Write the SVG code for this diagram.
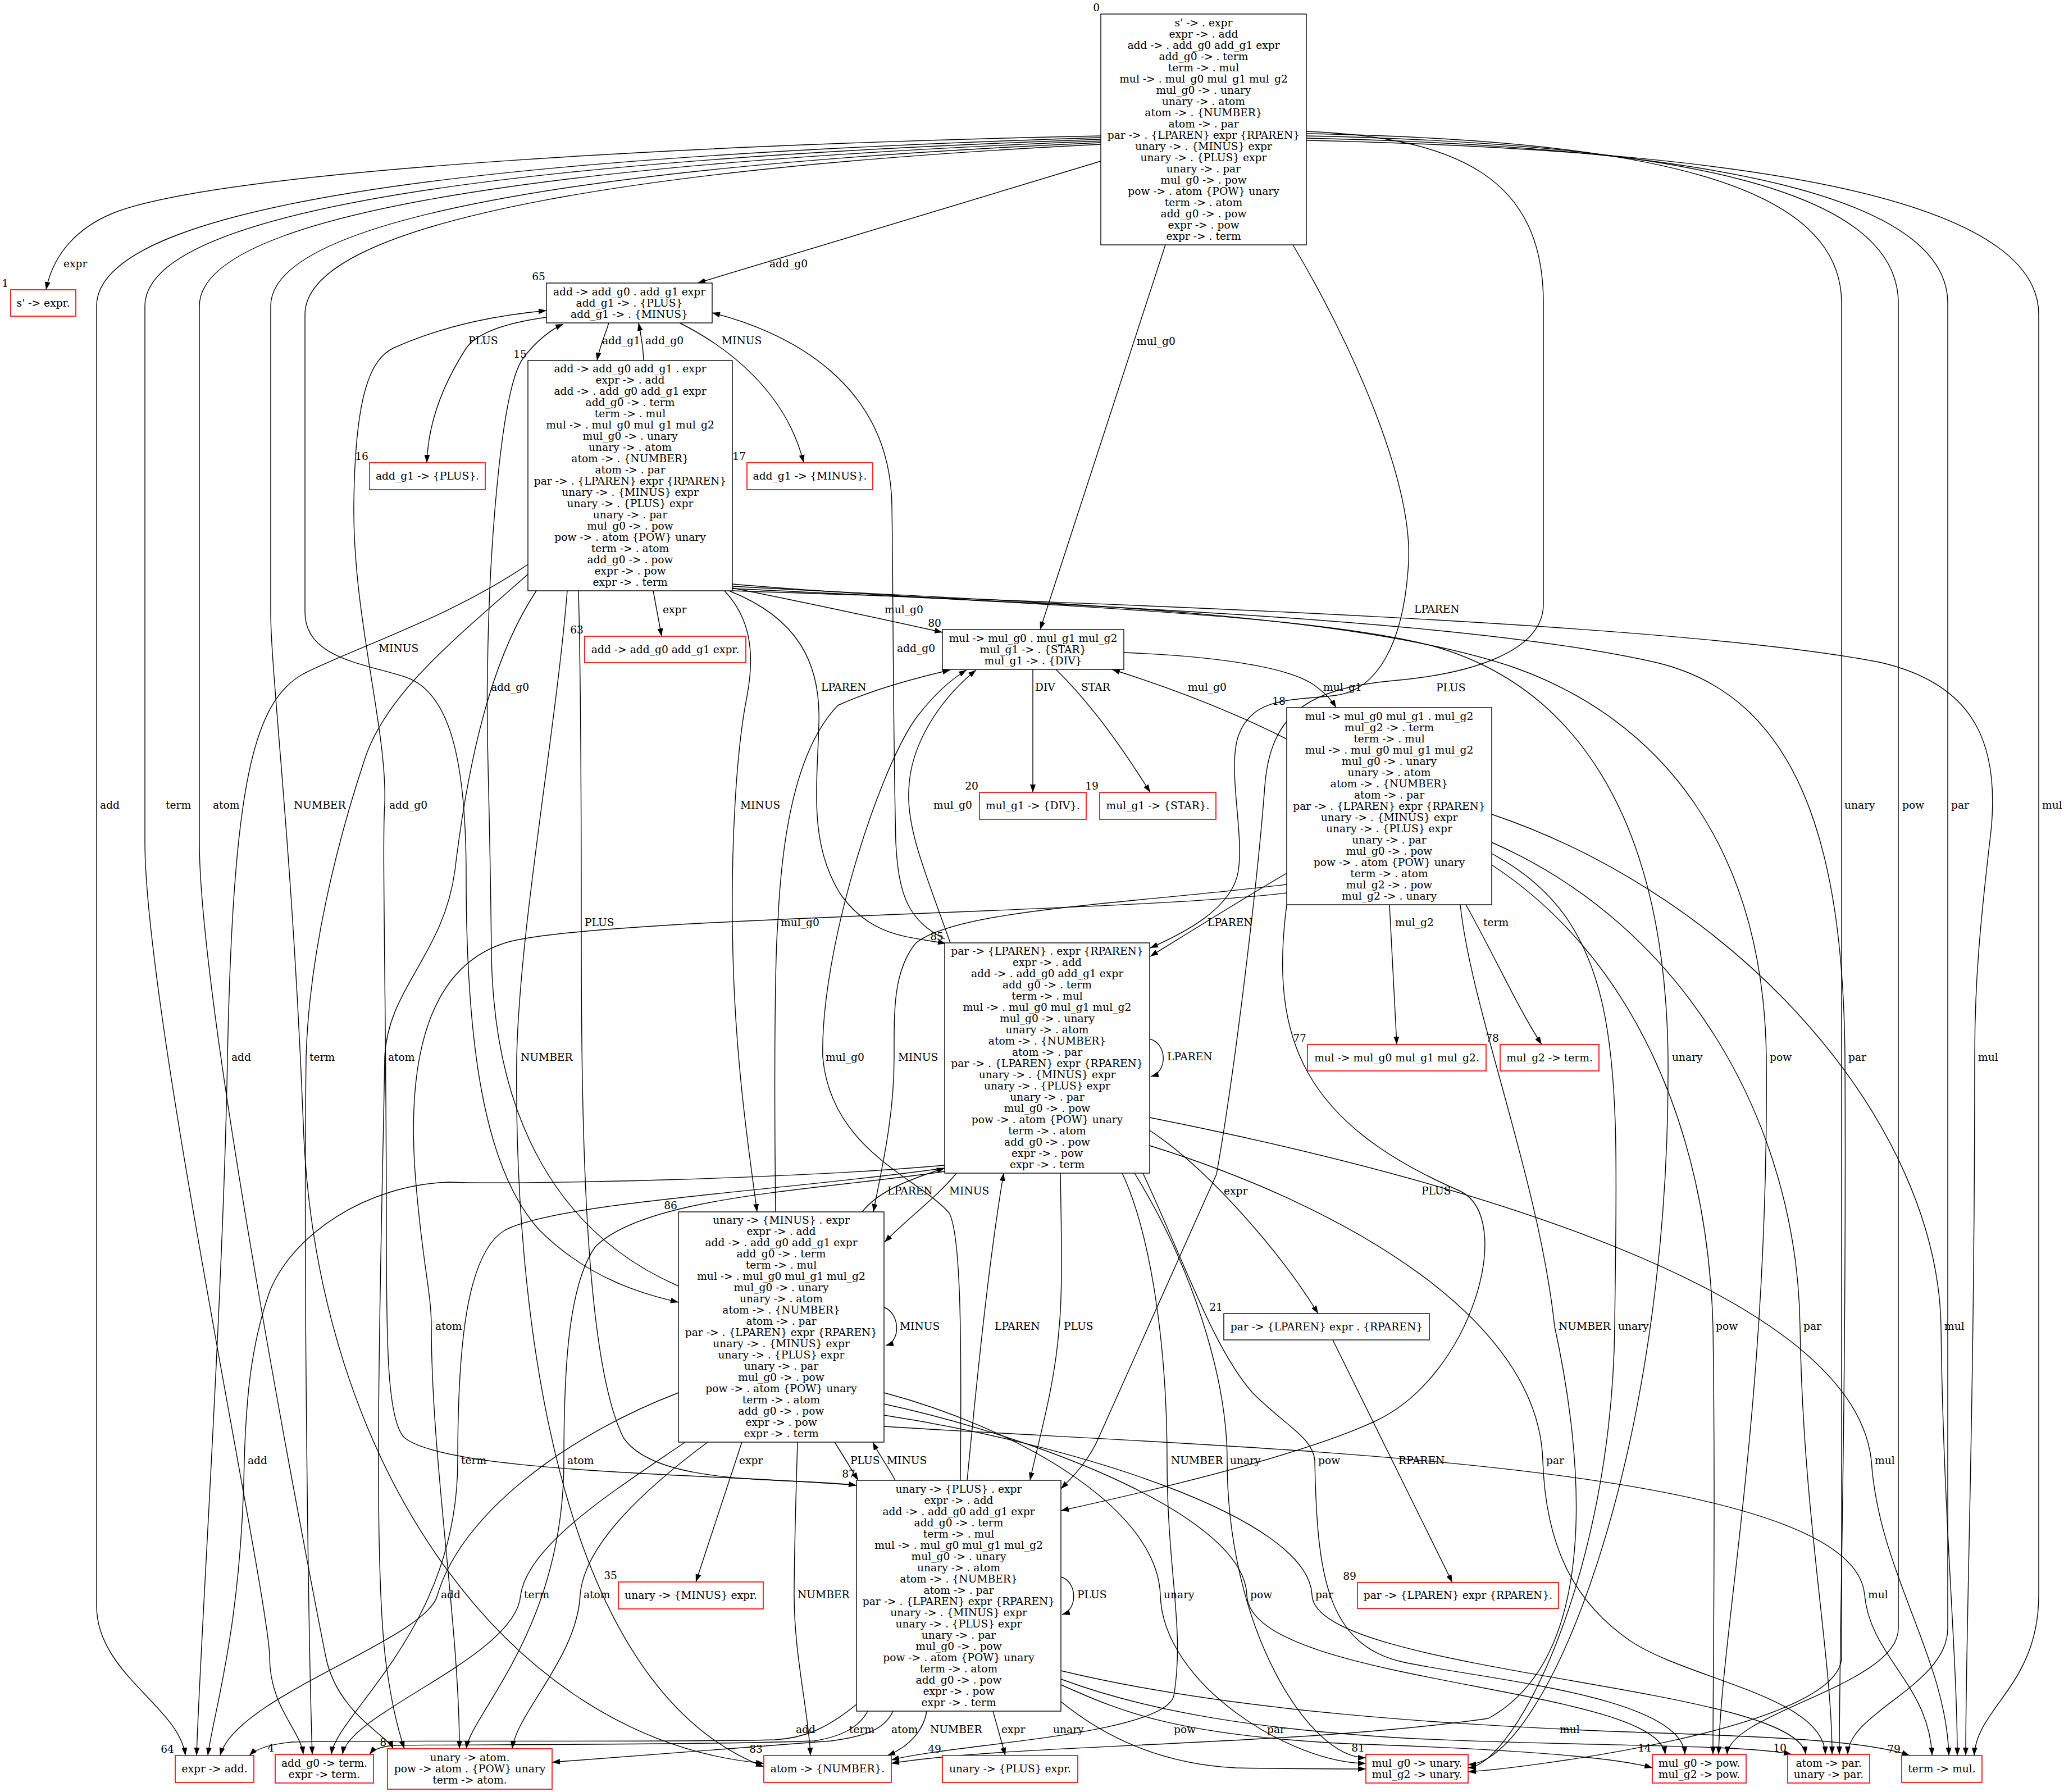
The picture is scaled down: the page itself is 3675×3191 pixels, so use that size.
<svg xmlns="http://www.w3.org/2000/svg" width="3675" height="3191" viewBox="0 0 3675 3191">
<defs>
<marker id="ah" viewBox="0 0 14 10" refX="14" refY="5" markerWidth="14" markerHeight="10" markerUnits="userSpaceOnUse" orient="auto"><path d="M0,0 L14,5 L0,10 z" fill="#000"/></marker>
<style>
.n{font-family:'DejaVu Serif','Liberation Serif',serif;font-size:18.67px;text-anchor:middle;fill:#000}
.x{font-family:'DejaVu Serif','Liberation Serif',serif;font-size:18.67px;text-anchor:end;fill:#000}
.l{font-family:'DejaVu Serif','Liberation Serif',serif;font-size:18.67px;text-anchor:start;fill:#000}
.b{fill:#fff;stroke:#000;stroke-width:1.4}
.r{fill:#fff;stroke:#f00;stroke-width:1.7}
.e path{fill:none;stroke:#000;stroke-width:1.4;marker-end:url(#ah)}
</style>
</defs>
<rect width="3675" height="3191" fill="#fff"/>
<g id="edges" class="e">
<path d="M1960,242 C1300,255 400,300 200,380 C140,405 95,450 82,516"/>
<path d="M1960,245 C1000,275 172,345 172,545 L172,2860 C172,2980 320,3040 330,3126"/>
<path d="M1960,248 C1050,280 258,355 258,545 L258,1500 C258,1800 480,2850 480,2950 C480,3040 535,3080 540,3124"/>
<path d="M1960,251 C1100,285 355,365 355,545 L355,1500 C355,1800 560,2850 580,2950 C600,3050 690,3090 700,3114"/>
<path d="M1960,254 C1150,290 482,375 482,545 L482,1090 C482,1200 520,1500 540,2000 C560,2600 900,3100 1360,3140"/>
<path d="M1960,257 C1200,295 543,385 543,560 L543,1090 C543,1170 640,1180 720,1205 C800,1230 830,1350 830,1560 C830,1850 860,2080 960,2190 C1050,2280 1150,2305 1208,2319"/>
<path d="M1960,287 L1242,504"/>
<path d="M2075,436 L1852,1121"/>
<path d="M2302,436 C2400,600 2515,850 2508,1000 C2500,1150 2450,1228 2380,1238 C2300,1248 2230,1240 2205,1310 C2185,1370 2215,1480 2205,1550 C2195,1620 2100,1665 2048,1688"/>
<path d="M2326,234 C2600,245 2748,320 2748,539 L2748,1076 C2748,1160 2620,1200 2481,1212 C2330,1226 2262,1270 2252,1400 C2240,1560 2200,1900 2166,2091 L1958,2556 C1940,2600 1910,2630 1889,2651"/>
<path d="M2326,238 C2950,250 3279,330 3279,540 L3279,2950 C3279,3080 2700,3150 2614,3155"/>
<path d="M2326,242 C3000,256 3380,340 3380,540 L3380,2900 C3380,3000 3080,3050 3075,3124"/>
<path d="M2326,246 C3050,262 3468,350 3468,540 L3468,2900 C3468,3000 3290,3050 3290,3124"/>
<path d="M2326,250 C3150,268 3630,360 3630,560 L3630,2840 C3630,3000 3520,3040 3515,3126"/>
<path d="M1084,575 C1076,600 1067,620 1063,642"/>
<path d="M973,565 C900,575 850,592 830,620 C785,690 762,760 760,824"/>
<path d="M1210,575 C1300,620 1400,700 1431,824"/>
<path d="M1146,642 C1145,615 1141,595 1137,575"/>
<path d="M1163,1052 L1178,1133"/>
<path d="M1304,1047 C1420,1070 1560,1100 1678,1126"/>
<path d="M1298,1052 C1420,1100 1462,1180 1458,1290 C1455,1400 1440,1500 1495,1590 C1550,1670 1620,1668 1684,1680"/>
<path d="M1290,1052 C1335,1100 1345,1160 1330,1240 C1312,1330 1300,1500 1305,1700 C1310,1900 1335,2060 1348,2158"/>
<path d="M1030,1052 C1034,1200 1035,1500 1035,1650 C1035,2000 1040,2420 1110,2560 C1170,2650 1420,2630 1525,2645"/>
<path d="M940,1005 C800,1100 640,1150 540,1200 C450,1250 415,1400 405,1883 C398,2300 355,2950 350,3126"/>
<path d="M945,1018 C820,1130 690,1230 650,1350 C600,1500 550,1700 545,1883 C540,2300 550,2950 556,3124"/>
<path d="M955,1052 C890,1150 840,1300 810,1550 C790,1700 690,1760 685,1883 C680,2200 660,2800 690,2980 C700,3050 712,3090 720,3114"/>
<path d="M1010,1052 C990,1300 925,1650 920,1883 C915,2300 980,3000 1360,3146"/>
<path d="M1304,1040 C1700,1075 2300,1085 2550,1150 C2800,1220 2965,1450 2970,1883 C2975,2600 2750,3140 2614,3142"/>
<path d="M1304,1044 C1800,1072 2400,1085 2700,1190 C2950,1280 3140,1500 3145,1883 C3150,2500 3065,2900 3060,3124"/>
<path d="M1304,1048 C1900,1078 2600,1100 2950,1180 C3200,1240 3282,1500 3285,1883 C3288,2500 3275,2900 3275,3124"/>
<path d="M1304,1052 C2000,1075 3000,1110 3350,1180 C3520,1220 3560,1330 3545,1480 C3525,1650 3516,1750 3516,1883 C3516,2500 3500,2900 3500,3126"/>
<path d="M2001,1162 C2150,1168 2290,1185 2340,1220 C2360,1235 2370,1245 2379,1260"/>
<path d="M1839,1192 L1839,1411"/>
<path d="M1880,1192 C1950,1260 2010,1350 2048,1411"/>
<path d="M2291,1316 C2200,1270 2100,1230 1980,1192"/>
<path d="M2474,1611 L2487,1860"/>
<path d="M2610,1611 C2660,1700 2700,1790 2745,1860"/>
<path d="M2291,1555 C2230,1590 2150,1640 2048,1703"/>
<path d="M2291,1575 C2000,1610 1700,1620 1630,1680 C1590,1730 1592,1800 1592,1883 C1592,1990 1570,2080 1555,2158"/>
<path d="M2291,1611 C2260,1850 2320,2000 2600,2121 C2700,2170 2620,2450 2450,2530 C2300,2600 1980,2670 1889,2690"/>
<path d="M2291,1590 C2000,1625 1100,1632 910,1676 C780,1710 720,1850 740,2100 C752,2250 768,2300 768,2362 C768,2600 818,2900 818,3114"/>
<path d="M2600,1611 C2620,1800 2740,2100 2768,2362 C2820,2600 2850,2950 2650,3060 C2300,3110 1800,3105 1587,3140"/>
<path d="M2656,1520 C2900,1650 2880,1900 2875,2362 C2870,2800 2700,3140 2614,3148"/>
<path d="M2656,1540 C2900,1700 3040,2000 3050,2362 C3055,2700 3050,2950 3050,3124"/>
<path d="M2656,1500 C3000,1650 3200,2000 3205,2362 C3210,2700 3262,2950 3262,3124"/>
<path d="M2656,1450 C3100,1600 3450,2000 3456,2362 C3460,2700 3485,2950 3485,3126"/>
<path d="M2047,2013 C2150,2080 2280,2230 2347,2339"/>
<path d="M2047,1850 C2078,1858 2080,1908 2049,1917"/>
<path d="M1703,2089 C1670,2130 1610,2175 1575,2212"/>
<path d="M1888,2089 C1890,2200 1892,2300 1886,2362 C1878,2470 1850,2560 1834,2636"/>
<path d="M1692,1679 C1650,1560 1615,1480 1618,1409 C1620,1320 1680,1240 1738,1193"/>
<path d="M1682,1672 C1620,1640 1600,1600 1595,1500 C1590,1300 1590,1000 1588,900 C1585,680 1400,590 1268,557"/>
<path d="M1682,2075 C1400,2100 900,2110 800,2105 C650,2110 520,2200 480,2300 C445,2400 438,2500 435,2601 C430,2900 380,3050 370,3126"/>
<path d="M1682,2080 C1400,2120 1000,2140 900,2190 C830,2230 815,2400 815,2601 C815,2900 600,3050 590,3124"/>
<path d="M1682,2086 C1450,2120 1150,2130 1060,2220 C1010,2290 1004,2450 1004,2601 C1004,2900 840,3050 830,3114"/>
<path d="M1998,2089 C2050,2200 2078,2400 2078,2601 C2078,2800 2110,2900 2090,3020 C2070,3090 1700,3105 1587,3134"/>
<path d="M2020,2089 C2120,2250 2185,2450 2185,2601 C2185,2900 2330,3130 2432,3130"/>
<path d="M2035,2089 C2110,2250 2160,2400 2230,2480 C2290,2540 2338,2560 2341,2601 C2345,2800 2360,2930 2500,2960 S2995,3020 3000,3124"/>
<path d="M2047,2040 C2400,2150 2740,2350 2747,2601 C2752,2750 2800,2850 2900,2920 S3248,3020 3250,3124"/>
<path d="M2047,1990 C2600,2100 3300,2300 3332,2601 C3345,2800 3465,2950 3470,3126"/>
<path d="M1321,2568 L1239,2817"/>
<path d="M1574,2328 C1602,2338 1605,2388 1577,2396"/>
<path d="M1486,2568 C1500,2590 1515,2615 1528,2636"/>
<path d="M1535,2158 C1565,2120 1620,2100 1682,2080"/>
<path d="M1381,2158 C1378,1900 1380,1700 1385,1643 C1392,1480 1420,1330 1492,1256 C1560,1225 1640,1205 1692,1193"/>
<path d="M1208,2290 C1000,2200 880,2000 875,1700 C872,1400 865,1300 868,1200 C870,1000 890,700 930,640 C955,605 985,585 1003,577"/>
<path d="M1208,2480 C1000,2560 820,2700 779,2840 C760,2920 420,3020 392,3126"/>
<path d="M1220,2568 C1100,2650 940,2750 927,2840 C920,2950 620,3050 610,3124"/>
<path d="M1260,2568 C1150,2650 1040,2750 1033,2840 C1028,2950 920,3050 912,3114"/>
<path d="M1420,2568 C1416,2700 1414,2780 1414,2840 C1414,2950 1440,3050 1443,3126"/>
<path d="M1574,2480 C1800,2540 2060,2680 2066,2840 C2070,3000 2300,3140 2432,3140"/>
<path d="M1574,2500 C1850,2560 2215,2700 2220,2840 C2225,3000 2950,3000 2965,3124"/>
<path d="M1574,2520 C1900,2570 2330,2700 2336,2840 C2340,2980 3200,3000 3215,3124"/>
<path d="M1574,2540 C2200,2580 3300,2600 3320,2840 C3330,2950 3435,3000 3440,3126"/>
<path d="M1768,3047 L1790,3126"/>
<path d="M1889,2808 C1918,2816 1920,2866 1891,2875"/>
<path d="M1594,2636 C1580,2610 1565,2590 1554,2568"/>
<path d="M1722,2636 C1740,2450 1760,2250 1787,2089"/>
<path d="M1710,2636 C1712,2400 1712,2200 1690,2160 C1640,2100 1480,2050 1465,1883 C1460,1700 1560,1380 1630,1280 C1660,1240 1690,1212 1721,1193"/>
<path d="M1525,2645 C1300,2625 800,2625 720,2560 C690,2530 688,2400 688,2200 C688,1800 680,1500 685,1433 C690,1300 628,1100 630,900 C632,700 660,640 700,620 C800,575 900,560 973,553"/>
<path d="M1525,3035 C1470,3080 1430,3095 1380,3098 C1200,3103 700,3098 520,3102 C480,3106 455,3115 444,3126"/>
<path d="M1545,3047 C1530,3075 1500,3092 1450,3100 C1250,3108 800,3106 700,3108 C680,3110 665,3115 658,3124"/>
<path d="M1590,3047 C1575,3080 1540,3092 1480,3100 L983,3138"/>
<path d="M1650,3047 C1645,3080 1620,3110 1580,3126"/>
<path d="M1889,3030 C1950,3080 2050,3140 2200,3148 C2300,3150 2380,3150 2432,3150"/>
<path d="M1889,3000 C2000,3050 2100,3090 2400,3105 C2700,3115 2880,3130 2942,3148"/>
<path d="M1889,2990 C2050,3050 2250,3080 2500,3095 C2800,3110 3100,3105 3190,3124"/>
<path d="M1889,2975 C2200,3050 2600,3070 2800,3080 C3000,3090 3300,3090 3400,3126"/>
<path d="M2373,2386 L2586,2818"/>
</g>
<g id="edge-labels" class="l">
<text x="113" y="476">expr</text>
<text x="1370" y="476">add_g0</text>
<text x="834" y="613">PLUS</text>
<text x="1072" y="613">add_g1</text>
<text x="1149" y="613">add_g0</text>
<text x="1285" y="613">MINUS</text>
<text x="2024" y="614">mul_g0</text>
<text x="1180" y="1092">expr</text>
<text x="1575" y="1092">mul_g0</text>
<text x="2518" y="1091">LPAREN</text>
<text x="674" y="1161">MINUS</text>
<text x="1597" y="1161">add_g0</text>
<text x="874" y="1230">add_g0</text>
<text x="1462" y="1230">LPAREN</text>
<text x="1843" y="1230">DIV</text>
<text x="1925" y="1230">STAR</text>
<text x="2115" y="1230">mul_g0</text>
<text x="2356" y="1230">mul_g1</text>
<text x="2557" y="1231">PLUS</text>
<text x="178" y="1440">add</text>
<text x="295" y="1440">term</text>
<text x="379" y="1440">atom</text>
<text x="523" y="1440">NUMBER</text>
<text x="693" y="1440">add_g0</text>
<text x="1318" y="1440">MINUS</text>
<text x="1662" y="1440">mul_g0</text>
<text x="3284" y="1440">unary</text>
<text x="3387" y="1440">pow</text>
<text x="3474" y="1440">par</text>
<text x="3636" y="1440">mul</text>
<text x="1041" y="1649">PLUS</text>
<text x="1390" y="1649">mul_g0</text>
<text x="2150" y="1649">LPAREN</text>
<text x="2484" y="1649">mul_g2</text>
<text x="2641" y="1649">term</text>
<text x="412" y="1889">add</text>
<text x="551" y="1889">term</text>
<text x="691" y="1889">atom</text>
<text x="927" y="1889">NUMBER</text>
<text x="1470" y="1889">mul_g0</text>
<text x="1599" y="1889">MINUS</text>
<text x="2078" y="1888">LPAREN</text>
<text x="2977" y="1889">unary</text>
<text x="3151" y="1889">pow</text>
<text x="3291" y="1889">par</text>
<text x="3522" y="1889">mul</text>
<text x="1580" y="2127">LPAREN</text>
<text x="1690" y="2127">MINUS</text>
<text x="2179" y="2127">expr</text>
<text x="2531" y="2127">PLUS</text>
<text x="775" y="2368">atom</text>
<text x="1602" y="2368">MINUS</text>
<text x="1771" y="2368">LPAREN</text>
<text x="1894" y="2368">PLUS</text>
<text x="2775" y="2368">NUMBER</text>
<text x="2881" y="2368">unary</text>
<text x="3055" y="2368">pow</text>
<text x="3211" y="2368">par</text>
<text x="3462" y="2368">mul</text>
<text x="441" y="2607">add</text>
<text x="821" y="2607">term</text>
<text x="1010" y="2607">atom</text>
<text x="1316" y="2607">expr</text>
<text x="1514" y="2607">PLUS</text>
<text x="1579" y="2607">MINUS</text>
<text x="2085" y="2607">NUMBER</text>
<text x="2190" y="2607">unary</text>
<text x="2347" y="2607">pow</text>
<text x="2490" y="2607">RPAREN</text>
<text x="2753" y="2607">par</text>
<text x="3338" y="2607">mul</text>
<text x="785" y="2846">add</text>
<text x="933" y="2846">term</text>
<text x="1039" y="2846">atom</text>
<text x="1420" y="2846">NUMBER</text>
<text x="1918" y="2846">PLUS</text>
<text x="2072" y="2846">unary</text>
<text x="2226" y="2846">pow</text>
<text x="2342" y="2846">par</text>
<text x="3326" y="2846">mul</text>
<text x="1417" y="3086">add</text>
<text x="1512" y="3086">term</text>
<text x="1587" y="3086">atom</text>
<text x="1656" y="3086">NUMBER</text>
<text x="1783" y="3086">expr</text>
<text x="1875" y="3086">unary</text>
<text x="2090" y="3086">pow</text>
<text x="2256" y="3086">par</text>
<text x="2777" y="3086">mul</text>
</g>
<g id="node-0"><rect class="b" x="1960" y="25" width="366" height="411"/><text class="x" x="1958" y="20">0</text><text class="n" y="46.5"><tspan x="2143">s' -&gt; . expr</tspan><tspan x="2143" dy="20">expr -&gt; . add</tspan><tspan x="2143" dy="20">add -&gt; . add_g0 add_g1 expr</tspan><tspan x="2143" dy="20">add_g0 -&gt; . term</tspan><tspan x="2143" dy="20">term -&gt; . mul</tspan><tspan x="2143" dy="20">mul -&gt; . mul_g0 mul_g1 mul_g2</tspan><tspan x="2143" dy="20">mul_g0 -&gt; . unary</tspan><tspan x="2143" dy="20">unary -&gt; . atom</tspan><tspan x="2143" dy="20">atom -&gt; . {NUMBER}</tspan><tspan x="2143" dy="20">atom -&gt; . par</tspan><tspan x="2143" dy="20">par -&gt; . {LPAREN} expr {RPAREN}</tspan><tspan x="2143" dy="20">unary -&gt; . {MINUS} expr</tspan><tspan x="2143" dy="20">unary -&gt; . {PLUS} expr</tspan><tspan x="2143" dy="20">unary -&gt; . par</tspan><tspan x="2143" dy="20">mul_g0 -&gt; . pow</tspan><tspan x="2143" dy="20">pow -&gt; . atom {POW} unary</tspan><tspan x="2143" dy="20">term -&gt; . atom</tspan><tspan x="2143" dy="20">add_g0 -&gt; . pow</tspan><tspan x="2143" dy="20">expr -&gt; . pow</tspan><tspan x="2143" dy="20">expr -&gt; . term</tspan></text></g>
<g id="node-1"><rect class="r" x="19" y="516" width="116" height="47"/><text class="x" x="15" y="511">1</text><text class="n" x="77" y="545.5">s' -&gt; expr.</text></g>
<g id="node-65"><rect class="b" x="973" y="504" width="295" height="71"/><text class="x" x="971" y="499">65</text><text class="n" y="525.5"><tspan x="1120.5">add -&gt; add_g0 . add_g1 expr</tspan><tspan x="1120.5" dy="20">add_g1 -&gt; . {PLUS}</tspan><tspan x="1120.5" dy="20">add_g1 -&gt; . {MINUS}</tspan></text></g>
<g id="node-15"><rect class="b" x="940" y="642" width="364" height="410"/><text class="x" x="938" y="637">15</text><text class="n" y="663"><tspan x="1122">add -&gt; add_g0 add_g1 . expr</tspan><tspan x="1122" dy="20">expr -&gt; . add</tspan><tspan x="1122" dy="20">add -&gt; . add_g0 add_g1 expr</tspan><tspan x="1122" dy="20">add_g0 -&gt; . term</tspan><tspan x="1122" dy="20">term -&gt; . mul</tspan><tspan x="1122" dy="20">mul -&gt; . mul_g0 mul_g1 mul_g2</tspan><tspan x="1122" dy="20">mul_g0 -&gt; . unary</tspan><tspan x="1122" dy="20">unary -&gt; . atom</tspan><tspan x="1122" dy="20">atom -&gt; . {NUMBER}</tspan><tspan x="1122" dy="20">atom -&gt; . par</tspan><tspan x="1122" dy="20">par -&gt; . {LPAREN} expr {RPAREN}</tspan><tspan x="1122" dy="20">unary -&gt; . {MINUS} expr</tspan><tspan x="1122" dy="20">unary -&gt; . {PLUS} expr</tspan><tspan x="1122" dy="20">unary -&gt; . par</tspan><tspan x="1122" dy="20">mul_g0 -&gt; . pow</tspan><tspan x="1122" dy="20">pow -&gt; . atom {POW} unary</tspan><tspan x="1122" dy="20">term -&gt; . atom</tspan><tspan x="1122" dy="20">add_g0 -&gt; . pow</tspan><tspan x="1122" dy="20">expr -&gt; . pow</tspan><tspan x="1122" dy="20">expr -&gt; . term</tspan></text></g>
<g id="node-16"><rect class="r" x="658" y="824" width="206" height="48"/><text class="x" x="656" y="819">16</text><text class="n" x="761" y="854">add_g1 -&gt; {PLUS}.</text></g>
<g id="node-17"><rect class="r" x="1330" y="824" width="224" height="48"/><text class="x" x="1328" y="819">17</text><text class="n" x="1442" y="854">add_g1 -&gt; {MINUS}.</text></g>
<g id="node-63"><rect class="r" x="1041" y="1133" width="287" height="47"/><text class="x" x="1039" y="1128">63</text><text class="n" x="1184.5" y="1162.5">add -&gt; add_g0 add_g1 expr.</text></g>
<g id="node-80"><rect class="b" x="1678" y="1121" width="323" height="71"/><text class="x" x="1676" y="1116">80</text><text class="n" y="1142.5"><tspan x="1839.5">mul -&gt; mul_g0 . mul_g1 mul_g2</tspan><tspan x="1839.5" dy="20">mul_g1 -&gt; . {STAR}</tspan><tspan x="1839.5" dy="20">mul_g1 -&gt; . {DIV}</tspan></text></g>
<g id="node-20"><rect class="r" x="1744" y="1411" width="190" height="48"/><text class="x" x="1742" y="1406">20</text><text class="n" x="1839" y="1441">mul_g1 -&gt; {DIV}.</text></g>
<g id="node-19"><rect class="r" x="1958" y="1411" width="207" height="48"/><text class="x" x="1956" y="1406">19</text><text class="n" x="2061.5" y="1441">mul_g1 -&gt; {STAR}.</text></g>
<g id="node-18"><rect class="b" x="2291" y="1260" width="365" height="351"/><text class="x" x="2289" y="1255">18</text><text class="n" y="1281.5"><tspan x="2473.5">mul -&gt; mul_g0 mul_g1 . mul_g2</tspan><tspan x="2473.5" dy="20">mul_g2 -&gt; . term</tspan><tspan x="2473.5" dy="20">term -&gt; . mul</tspan><tspan x="2473.5" dy="20">mul -&gt; . mul_g0 mul_g1 mul_g2</tspan><tspan x="2473.5" dy="20">mul_g0 -&gt; . unary</tspan><tspan x="2473.5" dy="20">unary -&gt; . atom</tspan><tspan x="2473.5" dy="20">atom -&gt; . {NUMBER}</tspan><tspan x="2473.5" dy="20">atom -&gt; . par</tspan><tspan x="2473.5" dy="20">par -&gt; . {LPAREN} expr {RPAREN}</tspan><tspan x="2473.5" dy="20">unary -&gt; . {MINUS} expr</tspan><tspan x="2473.5" dy="20">unary -&gt; . {PLUS} expr</tspan><tspan x="2473.5" dy="20">unary -&gt; . par</tspan><tspan x="2473.5" dy="20">mul_g0 -&gt; . pow</tspan><tspan x="2473.5" dy="20">pow -&gt; . atom {POW} unary</tspan><tspan x="2473.5" dy="20">term -&gt; . atom</tspan><tspan x="2473.5" dy="20">mul_g2 -&gt; . pow</tspan><tspan x="2473.5" dy="20">mul_g2 -&gt; . unary</tspan></text></g>
<g id="node-85"><rect class="b" x="1682" y="1679" width="365" height="410"/><text class="x" x="1680" y="1674">85</text><text class="n" y="1700"><tspan x="1864.5">par -&gt; {LPAREN} . expr {RPAREN}</tspan><tspan x="1864.5" dy="20">expr -&gt; . add</tspan><tspan x="1864.5" dy="20">add -&gt; . add_g0 add_g1 expr</tspan><tspan x="1864.5" dy="20">add_g0 -&gt; . term</tspan><tspan x="1864.5" dy="20">term -&gt; . mul</tspan><tspan x="1864.5" dy="20">mul -&gt; . mul_g0 mul_g1 mul_g2</tspan><tspan x="1864.5" dy="20">mul_g0 -&gt; . unary</tspan><tspan x="1864.5" dy="20">unary -&gt; . atom</tspan><tspan x="1864.5" dy="20">atom -&gt; . {NUMBER}</tspan><tspan x="1864.5" dy="20">atom -&gt; . par</tspan><tspan x="1864.5" dy="20">par -&gt; . {LPAREN} expr {RPAREN}</tspan><tspan x="1864.5" dy="20">unary -&gt; . {MINUS} expr</tspan><tspan x="1864.5" dy="20">unary -&gt; . {PLUS} expr</tspan><tspan x="1864.5" dy="20">unary -&gt; . par</tspan><tspan x="1864.5" dy="20">mul_g0 -&gt; . pow</tspan><tspan x="1864.5" dy="20">pow -&gt; . atom {POW} unary</tspan><tspan x="1864.5" dy="20">term -&gt; . atom</tspan><tspan x="1864.5" dy="20">add_g0 -&gt; . pow</tspan><tspan x="1864.5" dy="20">expr -&gt; . pow</tspan><tspan x="1864.5" dy="20">expr -&gt; . term</tspan></text></g>
<g id="node-77"><rect class="r" x="2328" y="1860" width="318" height="47"/><text class="x" x="2326" y="1855">77</text><text class="n" x="2487" y="1889.5">mul -&gt; mul_g0 mul_g1 mul_g2.</text></g>
<g id="node-78"><rect class="r" x="2671" y="1860" width="176" height="47"/><text class="x" x="2669" y="1855">78</text><text class="n" x="2759" y="1889.5">mul_g2 -&gt; term.</text></g>
<g id="node-86"><rect class="b" x="1208" y="2158" width="366" height="410"/><text class="x" x="1206" y="2153">86</text><text class="n" y="2179"><tspan x="1391">unary -&gt; {MINUS} . expr</tspan><tspan x="1391" dy="20">expr -&gt; . add</tspan><tspan x="1391" dy="20">add -&gt; . add_g0 add_g1 expr</tspan><tspan x="1391" dy="20">add_g0 -&gt; . term</tspan><tspan x="1391" dy="20">term -&gt; . mul</tspan><tspan x="1391" dy="20">mul -&gt; . mul_g0 mul_g1 mul_g2</tspan><tspan x="1391" dy="20">mul_g0 -&gt; . unary</tspan><tspan x="1391" dy="20">unary -&gt; . atom</tspan><tspan x="1391" dy="20">atom -&gt; . {NUMBER}</tspan><tspan x="1391" dy="20">atom -&gt; . par</tspan><tspan x="1391" dy="20">par -&gt; . {LPAREN} expr {RPAREN}</tspan><tspan x="1391" dy="20">unary -&gt; . {MINUS} expr</tspan><tspan x="1391" dy="20">unary -&gt; . {PLUS} expr</tspan><tspan x="1391" dy="20">unary -&gt; . par</tspan><tspan x="1391" dy="20">mul_g0 -&gt; . pow</tspan><tspan x="1391" dy="20">pow -&gt; . atom {POW} unary</tspan><tspan x="1391" dy="20">term -&gt; . atom</tspan><tspan x="1391" dy="20">add_g0 -&gt; . pow</tspan><tspan x="1391" dy="20">expr -&gt; . pow</tspan><tspan x="1391" dy="20">expr -&gt; . term</tspan></text></g>
<g id="node-21"><rect class="b" x="2179" y="2339" width="366" height="47"/><text class="x" x="2177" y="2334">21</text><text class="n" x="2362" y="2368.5">par -&gt; {LPAREN} expr . {RPAREN}</text></g>
<g id="node-87"><rect class="b" x="1525" y="2636" width="364" height="411"/><text class="x" x="1523" y="2631">87</text><text class="n" y="2657.5"><tspan x="1707">unary -&gt; {PLUS} . expr</tspan><tspan x="1707" dy="20">expr -&gt; . add</tspan><tspan x="1707" dy="20">add -&gt; . add_g0 add_g1 expr</tspan><tspan x="1707" dy="20">add_g0 -&gt; . term</tspan><tspan x="1707" dy="20">term -&gt; . mul</tspan><tspan x="1707" dy="20">mul -&gt; . mul_g0 mul_g1 mul_g2</tspan><tspan x="1707" dy="20">mul_g0 -&gt; . unary</tspan><tspan x="1707" dy="20">unary -&gt; . atom</tspan><tspan x="1707" dy="20">atom -&gt; . {NUMBER}</tspan><tspan x="1707" dy="20">atom -&gt; . par</tspan><tspan x="1707" dy="20">par -&gt; . {LPAREN} expr {RPAREN}</tspan><tspan x="1707" dy="20">unary -&gt; . {MINUS} expr</tspan><tspan x="1707" dy="20">unary -&gt; . {PLUS} expr</tspan><tspan x="1707" dy="20">unary -&gt; . par</tspan><tspan x="1707" dy="20">mul_g0 -&gt; . pow</tspan><tspan x="1707" dy="20">pow -&gt; . atom {POW} unary</tspan><tspan x="1707" dy="20">term -&gt; . atom</tspan><tspan x="1707" dy="20">add_g0 -&gt; . pow</tspan><tspan x="1707" dy="20">expr -&gt; . pow</tspan><tspan x="1707" dy="20">expr -&gt; . term</tspan></text></g>
<g id="node-35"><rect class="r" x="1101" y="2817" width="258" height="48"/><text class="x" x="1099" y="2812">35</text><text class="n" x="1230" y="2847">unary -&gt; {MINUS} expr.</text></g>
<g id="node-89"><rect class="r" x="2417" y="2818" width="358" height="46"/><text class="x" x="2415" y="2813">89</text><text class="n" x="2596" y="2847">par -&gt; {LPAREN} expr {RPAREN}.</text></g>
<g id="node-64"><rect class="r" x="312" y="3126" width="140" height="48"/><text class="x" x="310" y="3121">64</text><text class="n" x="382" y="3156">expr -&gt; add.</text></g>
<g id="node-4"><rect class="r" x="490" y="3124" width="175" height="51"/><text class="x" x="488" y="3119">4</text><text class="n" y="3145.5"><tspan x="577.5">add_g0 -&gt; term.</tspan><tspan x="577.5" dy="20">expr -&gt; term.</tspan></text></g>
<g id="node-8"><rect class="r" x="690" y="3114" width="293" height="72"/><text class="x" x="688" y="3109">8</text><text class="n" y="3136"><tspan x="836.5">unary -&gt; atom.</tspan><tspan x="836.5" dy="20">pow -&gt; atom . {POW} unary</tspan><tspan x="836.5" dy="20">term -&gt; atom.</tspan></text></g>
<g id="node-83"><rect class="r" x="1360" y="3126" width="227" height="48"/><text class="x" x="1358" y="3121">83</text><text class="n" x="1473.5" y="3156">atom -&gt; {NUMBER}.</text></g>
<g id="node-49"><rect class="r" x="1678" y="3126" width="241" height="48"/><text class="x" x="1676" y="3121">49</text><text class="n" x="1798.5" y="3156">unary -&gt; {PLUS} expr.</text></g>
<g id="node-81"><rect class="r" x="2432" y="3124" width="182" height="51"/><text class="x" x="2430" y="3119">81</text><text class="n" y="3145.5"><tspan x="2523">mul_g0 -&gt; unary.</tspan><tspan x="2523" dy="20">mul_g2 -&gt; unary.</tspan></text></g>
<g id="node-14"><rect class="r" x="2942" y="3124" width="167" height="51"/><text class="x" x="2940" y="3119">14</text><text class="n" y="3145.5"><tspan x="3025.5">mul_g0 -&gt; pow.</tspan><tspan x="3025.5" dy="20">mul_g2 -&gt; pow.</tspan></text></g>
<g id="node-10"><rect class="r" x="3183" y="3124" width="146" height="51"/><text class="x" x="3181" y="3119">10</text><text class="n" y="3145.5"><tspan x="3256">atom -&gt; par.</tspan><tspan x="3256" dy="20">unary -&gt; par.</tspan></text></g>
<g id="node-79"><rect class="r" x="3386" y="3126" width="143" height="48"/><text class="x" x="3384" y="3121">79</text><text class="n" x="3457.5" y="3156">term -&gt; mul.</text></g>
</svg>
